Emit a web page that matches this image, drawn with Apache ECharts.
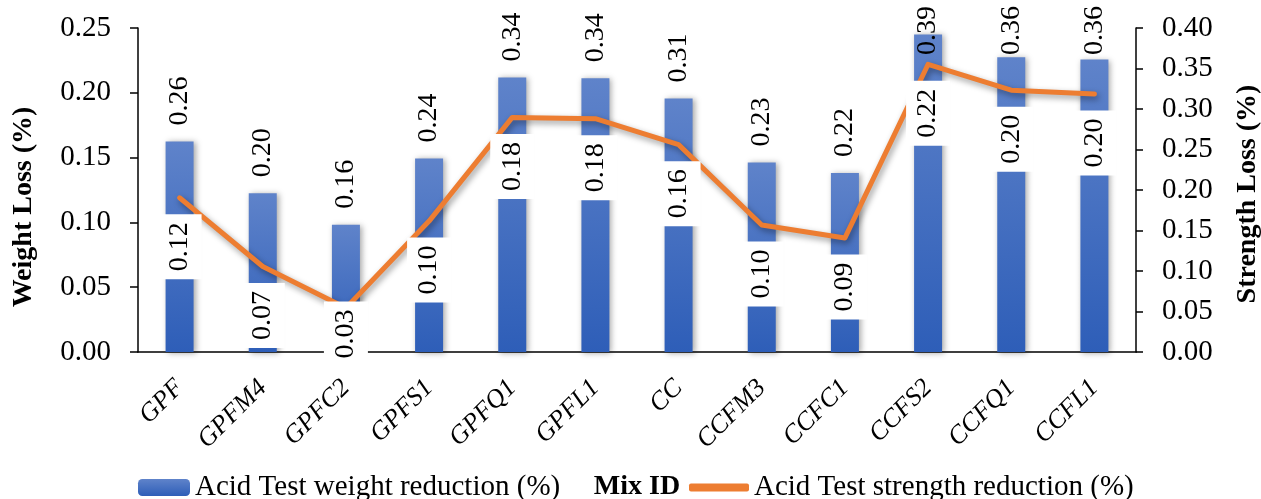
<!DOCTYPE html>
<html>
<head>
<meta charset="utf-8">
<script src="https://cdn.jsdelivr.net/npm/echarts@6/dist/echarts.min.js"></script>
<style>
  html, body { margin: 0; padding: 0; background: #fff; overflow: hidden; }
  #chart { width: 1261px; height: 499px; }
</style>
</head>
<body>
<div id="chart"></div>
<script>
// ---- Data ----
const categories = ['GPF', 'GPFM4', 'GPFC2', 'GPFS1', 'GPFQ1', 'GPFL1', 'CC', 'CCFM3', 'CCFC1', 'CCFS2', 'CCFQ1', 'CCFL1'];
const barName = 'Acid Test weight reduction (%)';
const lineName = 'Acid Test strength reduction (%)';
// bar values (read against the right-hand axis)
const barValues = [0.26, 0.196, 0.157, 0.239, 0.339, 0.338, 0.313, 0.234, 0.221, 0.392, 0.364, 0.361];
// line values (read against the left-hand axis)
const lineValues = [0.119, 0.066, 0.034, 0.101, 0.181, 0.180, 0.160, 0.098, 0.088, 0.222, 0.202, 0.199];
const leftTicks = { min: 0, max: 0.25, interval: 0.05 };
const rightTicks = { min: 0, max: 0.40, interval: 0.05 };

const FONT = 'Liberation Serif';
const LABEL_SIZE = 28;
const chart = echarts.init(document.getElementById('chart'), null, { renderer: 'canvas' });

const fmt2 = v => Number(v).toFixed(2);

const option = {
  animation: false,
  backgroundColor: '#ffffff',
  textStyle: { fontFamily: FONT, color: '#000' },
  grid: { left: 138, right: 125, top: 28, bottom: 147, containLabel: false, outerBoundsMode: 'none' },
  legend: [
    {
      data: [barName], left: 138, top: 473, padding: 0, itemWidth: 52, itemHeight: 17, itemGap: 5,
      textStyle: { fontFamily: FONT, fontSize: 29, color: '#000' },
      itemStyle: { shadowBlur: 0, shadowOffsetX: 0, shadowOffsetY: 0 }
    },
    {
      data: [lineName], left: 689, top: 473, padding: 0, icon: 'roundRect', itemWidth: 60, itemHeight: 8,
      textStyle: { fontFamily: FONT, fontSize: 29, color: '#000' },
      itemStyle: { color: '#ED7D31', borderWidth: 0 }
    }
  ],
  xAxis: {
    type: 'category',
    data: categories,
    name: 'Mix ID',
    nameLocation: 'middle',
    nameGap: 121,
    nameTextStyle: { fontFamily: FONT, fontWeight: 'bold', fontSize: 28, color: '#000' },
    axisLine: { lineStyle: { color: '#000', width: 1.5 } },
    axisTick: { length: 14, lineStyle: { color: '#000', width: 1.5 } },
    axisLabel: { rotate: 45, fontStyle: 'italic', fontFamily: FONT, fontSize: 26, color: '#000', margin: 32 }
  },
  yAxis: [
    {
      type: 'value', position: 'left',
      min: leftTicks.min, max: leftTicks.max, interval: leftTicks.interval,
      name: 'Weight Loss (%)', nameLocation: 'middle', nameRotate: 90, nameGap: 100,
      nameTextStyle: { fontFamily: FONT, fontWeight: 'bold', fontSize: 28, color: '#000', padding: [0, 34, 0, 0] },
      axisLine: { show: true, lineStyle: { color: '#000', width: 1.5 } },
      axisTick: { show: true, length: 8, lineStyle: { color: '#000', width: 1.5 } },
      axisLabel: { fontFamily: FONT, fontSize: 29, color: '#000', margin: 27, formatter: fmt2 },
      splitLine: { show: false }
    },
    {
      type: 'value', position: 'right',
      min: rightTicks.min, max: rightTicks.max, interval: rightTicks.interval,
      name: 'Strength Loss (%)', nameLocation: 'middle', nameRotate: 90, nameGap: 98,
      nameTextStyle: { fontFamily: FONT, fontWeight: 'bold', fontSize: 28, color: '#000', padding: [0, 8, 0, 0] },
      axisLine: { show: true, lineStyle: { color: '#000', width: 1.5 } },
      axisTick: { show: true, length: 7, lineStyle: { color: '#000', width: 1.5 } },
      axisLabel: { fontFamily: FONT, fontSize: 29, color: '#000', margin: 26, formatter: fmt2 },
      splitLine: { show: false }
    }
  ],
  series: [
    {
      name: barName,
      type: 'bar',
      yAxisIndex: 1,
      barWidth: 28,
      data: barValues,
      itemStyle: {
        color: new echarts.graphic.LinearGradient(0, 0, 0, 1, [
          { offset: 0, color: '#5f83ca' },
          { offset: 1, color: '#2e5eb8' }
        ]),
        shadowColor: 'rgba(0,0,0,0.35)',
        shadowBlur: 6,
        shadowOffsetX: 2,
        shadowOffsetY: 1
      },
      label: {
        show: true,
        position: 'top',
        distance: 16,
        rotate: 90,
        align: 'left',
        verticalAlign: 'middle',
        fontFamily: FONT,
        fontSize: LABEL_SIZE,
        color: '#000',
        formatter: p => fmt2(p.value)
      },
      z: 2
    },
    {
      name: lineName,
      type: 'line',
      yAxisIndex: 0,
      data: lineValues,
      symbol: 'circle',
      symbolSize: 1,
      showSymbol: true,
      lineStyle: {
        color: '#ED7D31',
        width: 5,
        cap: 'round',
        join: 'round',
        shadowColor: 'rgba(0,0,0,0.4)',
        shadowBlur: 6,
        shadowOffsetX: 2,
        shadowOffsetY: 3
      },
      itemStyle: { color: '#ED7D31' },
      label: {
        show: true,
        position: 'bottom',
        distance: 16,
        rotate: 90,
        align: 'right',
        verticalAlign: 'middle',
        fontFamily: FONT,
        fontSize: LABEL_SIZE,
        color: '#000',
        backgroundColor: '#ffffff',
        padding: [8, 8, 8, 8],
        formatter: p => fmt2(p.value)
      },
      z: 3
    }
  ]
};

chart.setOption(option);

// Keep data labels inside the chart area (as the original spreadsheet does):
// positions come from the library's own axes via convertToPixel.
const ctx = document.createElement('canvas').getContext('2d');
ctx.font = LABEL_SIZE + 'px "' + FONT + '"';
const textLen = s => ctx.measureText(s).width;

const barData = barValues.map(v => {
  const y = chart.convertToPixel({ yAxisIndex: 1 }, v);
  const top = y - 16 - textLen(fmt2(v));
  if (top < 6) return { value: v, label: { distance: 16 - (6 - top) } };
  return v;
});
const lineData = lineValues.map(v => {
  const y = chart.convertToPixel({ yAxisIndex: 0 }, v);
  const bottom = y + 16 + textLen(fmt2(v)) + 16;
  if (bottom > 366) return { value: v, label: { distance: 16 - (bottom - 366) } };
  return v;
});
chart.setOption({ series: [{ data: barData }, { data: lineData }] });
</script>
</body>
</html>
